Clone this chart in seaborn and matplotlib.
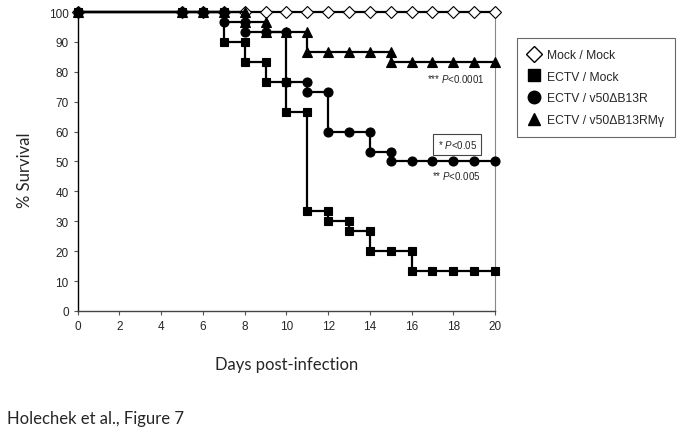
import numpy as np
import pandas as pd
import seaborn as sns
import matplotlib
import matplotlib.pyplot as plt
from matplotlib.lines import Line2D

# ---------------- data ----------------
group_names = ['Mock / Mock', 'ECTV / Mock', 'ECTV / v50ΔB13R', 'ECTV / v50ΔB13RMγ']

mock_days = [0, 5, 6, 7, 8, 9, 10, 11, 12, 13, 14, 15, 16, 17, 18, 19, 20]
mock_surv = [100] * len(mock_days)

ectv_days = [0, 5, 6, 7, 7, 8, 8, 9, 9, 10, 10, 11, 11, 12, 12, 13, 13, 14, 14, 15, 16, 16, 17, 18, 19, 20]
ectv_surv = [100, 100, 100, 100, 90, 90, 83.3, 83.3, 76.7, 76.7, 66.7, 66.7, 33.3, 33.3, 30, 30,
             26.7, 26.7, 20, 20, 20, 13.3, 13.3, 13.3, 13.3, 13.3]

b13r_days = [0, 5, 6, 7, 7, 8, 8, 9, 10, 10, 11, 11, 12, 12, 13, 14, 14, 15, 15, 16, 17, 18, 19, 20]
b13r_surv = [100, 100, 100, 100, 96.7, 96.7, 93.3, 93.3, 93.3, 76.7, 76.7, 73.3, 73.3, 60, 60, 60,
             53.3, 53.3, 50, 50, 50, 50, 50, 50]

rmg_days = [0, 5, 6, 7, 8, 8, 9, 9, 10, 11, 11, 12, 13, 14, 15, 15, 16, 17, 18, 19, 20]
rmg_surv = [100, 100, 100, 100, 100, 96.7, 96.7, 93.3, 93.3, 93.3, 86.7, 86.7, 86.7, 86.7, 86.7,
            83.3, 83.3, 83.3, 83.3, 83.3, 83.3]

x_ticks = list(range(0, 21, 2))
y_ticks = list(range(0, 101, 10))

# ---------------- styling ----------------
sns.set_style('ticks')
plt.rcParams['font.family'] = ['Liberation Sans', 'DejaVu Sans']
plt.rcParams['mathtext.fontset'] = 'custom'
plt.rcParams['mathtext.it'] = 'Liberation Sans:italic'
plt.rcParams['mathtext.rm'] = 'Liberation Sans'

fig = plt.figure(figsize=(6.83, 4.35), dpi=100)
ax = fig.add_axes([0.1138, 0.283, 0.611, 0.687])

series = [
    (mock_days, mock_surv, 'D', 'white', 6),
    (rmg_days, rmg_surv, '^', 'black', 7),
    (b13r_days, b13r_surv, 'o', 'black', 6.5),
    (ectv_days, ectv_surv, 's', 'black', 6),
]
for days, surv, mk, face, ms in series:
    df = pd.DataFrame({'day': days, 'survival': surv})
    sns.lineplot(data=df, x='day', y='survival', estimator=None, sort=False, ax=ax,
                 color='black', linewidth=1.6, marker=mk, markersize=ms,
                 markerfacecolor=face, markeredgecolor='black', markeredgewidth=0.8,
                 clip_on=False, zorder=3)

ax.set_xlim(0, 20)
ax.set_ylim(0, 100)
ax.set_xticks(x_ticks)
ax.set_yticks(y_ticks)
ax.tick_params(labelsize=8.5, length=3, width=0.8, color='#555555')
ax.spines['left'].set_color('black')
ax.spines['bottom'].set_color('#444444')
for side in ['left', 'bottom']:
    ax.spines[side].set_linewidth(1.0)
ax.spines['top'].set_visible(False)
ax.spines['right'].set_color('#888888')
ax.spines['right'].set_linewidth(0.8)

ax.set_xlabel('Days post-infection', fontsize=12, family=['Lato', 'DejaVu Sans'], labelpad=17)
ax.set_ylabel('% Survival', fontsize=12, family=['Lato', 'DejaVu Sans'])
ax.yaxis.set_label_coords(-0.108, 0.473)

# p-value annotations
ax.text(16.75, 77.8, r'*** $\it{P}$<0.0001', fontsize=7, va='center', ha='left')
ax.text(18.2, 55.8, r'* $\it{P}$<0.05', fontsize=7, va='center', ha='center',
        bbox=dict(boxstyle='square,pad=0.45', facecolor='white', edgecolor='#444444', linewidth=0.8))
ax.text(17.0, 45.6, r'** $\it{P}$<0.005', fontsize=7, va='center', ha='left')

# legend
handles = [
    Line2D([], [], linestyle='none', marker='D', markersize=8, markerfacecolor='white', markeredgecolor='black'),
    Line2D([], [], linestyle='none', marker='s', markersize=8, markerfacecolor='black', markeredgecolor='black'),
    Line2D([], [], linestyle='none', marker='o', markersize=9, markerfacecolor='black', markeredgecolor='black'),
    Line2D([], [], linestyle='none', marker='^', markersize=9, markerfacecolor='black', markeredgecolor='black'),
]
leg = fig.legend(handles, group_names, loc='upper left', bbox_to_anchor=(0.757, 0.91),
                 fontsize=8.7, frameon=True, fancybox=False, handlelength=1.0, handletextpad=0.6,
                 labelspacing=0.8, borderpad=0.9, borderaxespad=0)
leg.get_frame().set_edgecolor('#444444')
leg.get_frame().set_linewidth(0.8)

fig.text(0.01, 0.025, 'Holechek et al., Figure 7', fontsize=12, family=['Lato', 'DejaVu Sans'])

fig.savefig('out.png', dpi=100)
